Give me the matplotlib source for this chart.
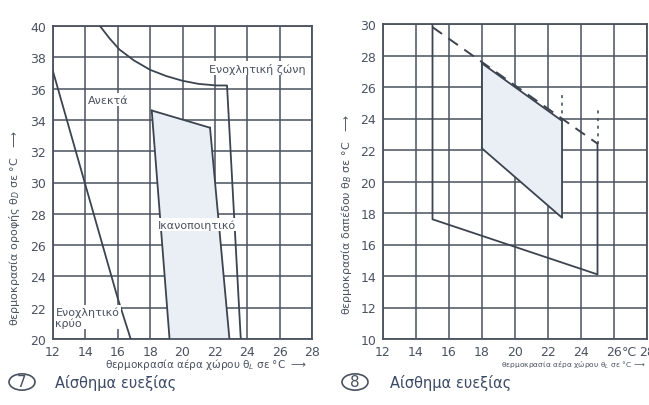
import matplotlib.pyplot as plt
from matplotlib.patches import Polygon, Circle

# chart 7 - ceiling temperature vs room air temperature
ceil_ticks_x = [12, 14, 16, 18, 20, 22, 24, 26, 28]
ceil_ticks_y = [20, 22, 24, 26, 28, 30, 32, 34, 36, 38, 40]
hot_x = [14.9, 15.5, 16.1, 17.0, 18.0, 19.0, 20.0, 21.0, 22.1, 22.75, 23.6]
hot_y = [40.0, 39.2, 38.5, 37.8, 37.2, 36.8, 36.5, 36.3, 36.2, 36.2, 20.0]
cold_x = [12.0, 16.0, 16.8]
cold_y = [37.1, 22.6, 20.0]
ok_ceil_x = [18.1, 21.7, 22.9, 19.2]
ok_ceil_y = [34.6, 33.5, 20.0, 20.0]

# chart 8 - floor temperature vs room air temperature
floor_ticks_x = [12, 14, 16, 18, 20, 22, 24, 26, 28]
floor_ticks_y = [10, 12, 14, 16, 18, 20, 22, 24, 26, 28, 30]
limit_x = [15.0, 25.0]
limit_y = [29.8, 22.4]
outer_x = [15.0, 15.0, 25.0, 25.0]
outer_y = [30.0, 17.6, 14.1, 22.4]
inner_x = [18.0, 22.85, 22.85, 18.0]
inner_y = [27.5, 23.85, 17.7, 22.1]
dots_x = [22.85, 25.0]
dots_lo = [23.85, 22.4]
dots_hi = [25.75, 24.6]

LINE = "#3c4450"
GRID = "#4a525e"
TXT = "#4a5260"
SHADE = "#eaeef5"

fig = plt.figure(figsize=(6.49, 4.06), dpi=100)
fig.patch.set_facecolor("white")
plt.rcParams["font.family"] = ["DejaVu Sans"]


def style_axes(ax, xt, yt):
    ax.set_xlim(xt[0], xt[-1])
    ax.set_ylim(yt[0], yt[-1])
    ax.set_xticks(xt)
    ax.set_yticks(yt)
    ax.grid(True, color=GRID, lw=1.1)
    ax.set_axisbelow(True)
    ax.tick_params(length=0, labelsize=9, colors=TXT)
    ax.tick_params(axis="x", pad=4)
    ax.tick_params(axis="y", pad=5)
    for s in ax.spines.values():
        s.set_color(GRID)
        s.set_linewidth(1.3)


# ----- chart 7
ax1 = fig.add_axes([53 / 649, 66 / 406, 259 / 649, 313 / 406])
style_axes(ax1, ceil_ticks_x, ceil_ticks_y)
ax1.add_patch(Polygon(list(zip(ok_ceil_x, ok_ceil_y)), closed=False,
                      facecolor=SHADE, edgecolor="none", zorder=1))
ax1.plot(ok_ceil_x[:2], ok_ceil_y[:2], color=LINE, lw=1.3, zorder=3)
ax1.plot([ok_ceil_x[0], ok_ceil_x[3]], [ok_ceil_y[0], ok_ceil_y[3]], color=LINE, lw=1.3, zorder=3)
ax1.plot(ok_ceil_x[1:3], ok_ceil_y[1:3], color=LINE, lw=1.3, zorder=3)
ax1.plot(hot_x, hot_y, color=LINE, lw=1.3, zorder=3)
ax1.plot(cold_x, cold_y, color=LINE, lw=1.3, zorder=3)

box = dict(facecolor="white", edgecolor="none", pad=1)
ax1.text(15.4, 35.3, "Ανεκτά", fontsize=8, color=TXT, ha="center", va="center", bbox=box, zorder=4)
ax1.text(24.6, 37.3, "Ενοχλητική ζώνη", fontsize=8, color=TXT, ha="center", va="center", bbox=box, zorder=4)
ax1.text(20.9, 27.3, "Ικανοποιητικό", fontsize=8, color=TXT, ha="center", va="center", bbox=box, zorder=4)
ax1.text(12.15, 21.4, "Ενοχλητικό\nκρύο", fontsize=8, color=TXT, ha="left", va="center",
         linespacing=1.1, bbox=box, zorder=4)
fig.text(206 / 649, 1 - 365 / 406, "θερμοκρασία αέρα χώρου θ$_L$ σε °C  ⟶",
         fontsize=7.5, color=TXT, ha="center", va="center")
fig.text(15 / 649, 1 - 228 / 406, "θερμοκρασία οροφής θ$_D$ σε °C   ⟶",
         fontsize=8, color=TXT, ha="center", va="center", rotation=90)

# ----- chart 8
ax2 = fig.add_axes([383 / 649, 66 / 406, 264 / 649, 315 / 406])
style_axes(ax2, floor_ticks_x, floor_ticks_y)
ax2.add_patch(Polygon(list(zip(inner_x, inner_y)), closed=True,
                      facecolor=SHADE, edgecolor="none", zorder=1))
ax2.plot(limit_x, limit_y, color=LINE, lw=1.4, ls=(0, (6, 4)), zorder=3)
ax2.plot(outer_x, outer_y, color=LINE, lw=1.3, zorder=3)
ax2.plot(inner_x, inner_y, color=LINE, lw=1.3, zorder=3)
ax2.plot([inner_x[-1], inner_x[0]], [inner_y[-1], inner_y[0]], color=LINE, lw=1.3, zorder=3)
for dx, lo, hi in zip(dots_x, dots_lo, dots_hi):
    ax2.plot([dx, dx], [lo, hi], color=LINE, lw=1.1, ls=(0, (2, 3)), zorder=3)
ax2.text(26.45, -0.018, "°C", transform=ax2.get_xaxis_transform(), fontsize=9,
         color=TXT, ha="left", va="top")
fig.text(645 / 649, 1 - 365 / 406, "θερμοκρασία αέρα χώρου θ$_L$ σε °C ⟶",
         fontsize=5.4, color=TXT, ha="right", va="center")
fig.text(346 / 649, 1 - 215 / 406, "θερμοκρασία δαπέδου θ$_B$ σε °C   ⟶",
         fontsize=8, color=TXT, ha="center", va="center", rotation=90)

# ----- captions
for cx, num, tx in [(22, "7", 55), (355, "8", 390)]:
    fig.patches.append(Circle((cx / 649, 23 / 406), 13 / 649, transform=fig.transFigure,
                              facecolor="none", edgecolor=TXT, lw=1.2))
    fig.text(cx / 649, 23 / 406, num, fontsize=11, color=TXT, ha="center", va="center")
    fig.text(tx / 649, 23 / 406, "Αίσθημα ευεξίας", fontsize=10.5, color="#3c4a66",
             ha="left", va="center")

fig.savefig("out.png", dpi=100)
